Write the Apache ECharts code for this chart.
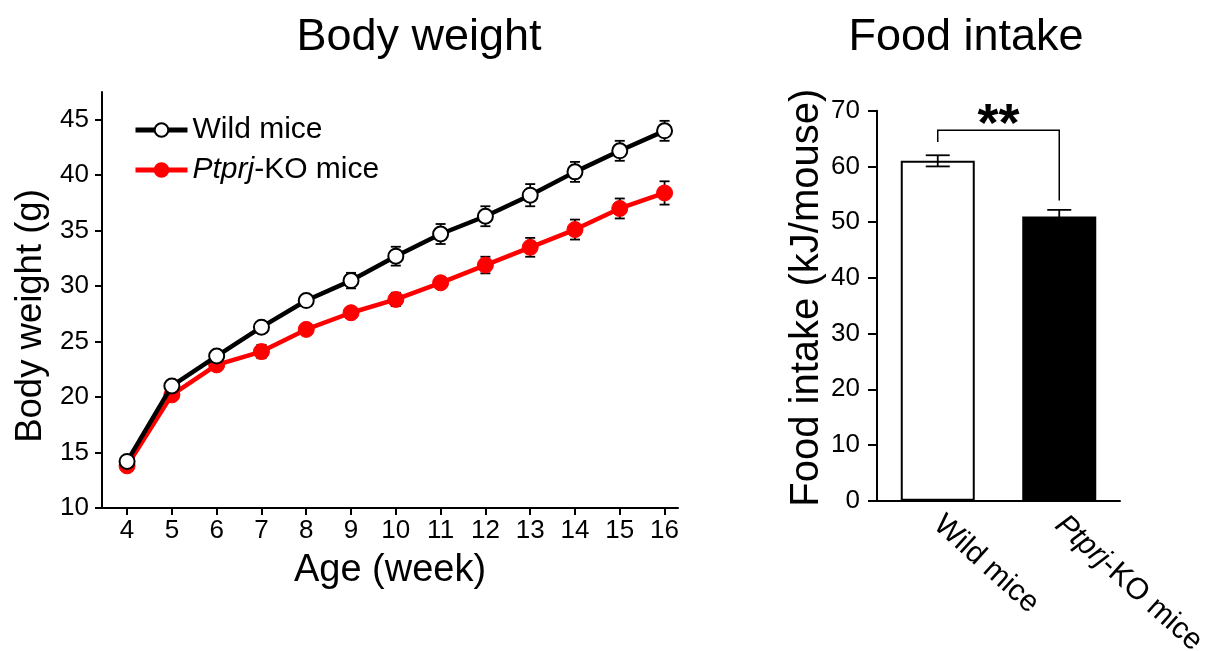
<!DOCTYPE html>
<html>
<head>
<meta charset="utf-8">
<script src="https://cdn.jsdelivr.net/npm/echarts@6/dist/echarts.min.js"></script>
<style>
html,body{margin:0;padding:0;background:#fff;}
#main{width:1207px;height:651px;}
</style>
</head>
<body>
<div id="main"></div>
<script>
// ---- Body weight data ----
const weeks = [4, 5, 6, 7, 8, 9, 10, 11, 12, 13, 14, 15, 16];
const wildWeight = [14.2, 21.0, 23.7, 26.3, 28.7, 30.5, 32.7, 34.7, 36.3, 38.2, 40.3, 42.2, 44.0];
const wildWeightSE = [0.2, 0.3, 0.3, 0.3, 0.5, 0.7, 0.85, 0.9, 0.9, 1.0, 0.9, 0.9, 0.9];
const koWeight = [13.8, 20.2, 22.9, 24.1, 26.1, 27.6, 28.8, 30.3, 31.9, 33.5, 35.1, 37.0, 38.4];
const koWeightSE = [0.2, 0.3, 0.3, 0.6, 0.3, 0.3, 0.6, 0.45, 0.75, 0.85, 0.9, 0.9, 1.05];
const weightTicks = [10, 15, 20, 25, 30, 35, 40, 45];

// ---- Food intake data ----
const groups = ['Wild mice', 'Ptprj-KO mice'];
const foodIntake = [61.0, 51.0];
const foodIntakeSE = [1.0, 1.2];
const sigBracket = [[0, 1, 64.4, 66.5, 53.9]]; // from, to, left end, top, right end
const sigLabel = '**';

const FONT = '"Liberation Sans", Arial, Helvetica, sans-serif';

function errData(xs, means, ses) {
  return xs.map((x, i) => [x, means[i] - ses[i], means[i] + ses[i]]);
}

function errRender(capHalf, lw) {
  return function (params, api) {
    const x = api.value(0);
    const lo = api.coord([x, api.value(1)]);
    const hi = api.coord([x, api.value(2)]);
    const style = { stroke: '#000', lineWidth: lw, fill: null };
    return {
      type: 'group',
      children: [
        { type: 'line', shape: { x1: lo[0], y1: lo[1], x2: hi[0], y2: hi[1] }, style: style },
        { type: 'line', shape: { x1: lo[0] - capHalf, y1: lo[1], x2: lo[0] + capHalf, y2: lo[1] }, style: style },
        { type: 'line', shape: { x1: hi[0] - capHalf, y1: hi[1], x2: hi[0] + capHalf, y2: hi[1] }, style: style }
      ]
    };
  };
}

const chart = echarts.init(document.getElementById('main'));

const axisLineStyle = { color: '#000', width: 2 };

chart.setOption({
  animation: false,
  backgroundColor: '#fff',
  textStyle: { fontFamily: FONT, color: '#000' },
  title: [
    { text: 'Body weight', left: 414, top: 10, textAlign: 'center',
      textStyle: { fontFamily: FONT, fontSize: 45, fontWeight: 'normal', color: '#000' } },
    { text: 'Food intake', left: 961, top: 10, textAlign: 'center',
      textStyle: { fontFamily: FONT, fontSize: 45, fontWeight: 'normal', color: '#000' } }
  ],
  legend: {
    orient: 'vertical',
    left: 128,
    top: 110,
    itemWidth: 52,
    itemHeight: 17,
    itemGap: 10,
    data: ['Wild mice', 'Ptprj-KO mice'],
    lineStyle: { width: 5 },
    textStyle: {
      fontFamily: FONT, fontSize: 30, color: '#000',
      rich: { i: { fontFamily: FONT, fontSize: 30, fontStyle: 'italic', color: '#000' } }
    },
    formatter: function (name) {
      return name === 'Ptprj-KO mice' ? '{i|Ptprj}-KO mice' : name;
    }
  },
  grid: [
    { left: 102, right: 529, top: 92, bottom: 143, outerBoundsMode: 'none', containLabel: false },
    { left: 877, right: 87, top: 110.7, bottom: 150.3, outerBoundsMode: 'none', containLabel: false }
  ],
  xAxis: [
    {
      gridIndex: 0, type: 'value', min: 3.44, max: 16.3,
      splitLine: { show: false },
      axisLine: { lineStyle: axisLineStyle },
      axisTick: { show: true, length: 7, customValues: weeks, lineStyle: { color: '#000', width: 2 } },
      axisLabel: { customValues: weeks, fontSize: 26, fontFamily: FONT, color: '#000', margin: 10 },
      name: 'Age (week)', nameLocation: 'middle', nameGap: 44,
      nameTextStyle: { fontSize: 38, fontFamily: FONT, color: '#000' }
    },
    {
      gridIndex: 1, type: 'category', data: groups,
      axisLine: { lineStyle: axisLineStyle },
      axisTick: { show: false },
      axisLabel: {
        rotate: -42, fontSize: 30, fontFamily: FONT, color: '#000', margin: 20,
        interval: 0,
        formatter: function (v) { return v === 'Ptprj-KO mice' ? '{i|Ptprj}-KO mice' : v; },
        rich: { i: { fontFamily: FONT, fontSize: 30, fontStyle: 'italic', color: '#000' } }
      }
    }
  ],
  yAxis: [
    {
      gridIndex: 0, type: 'value', min: 10, max: 47.5,
      splitLine: { show: false },
      axisLine: { show: true, lineStyle: axisLineStyle },
      axisTick: { show: true, length: 7, customValues: weightTicks, lineStyle: { color: '#000', width: 2 } },
      axisLabel: { customValues: weightTicks, fontSize: 26, fontFamily: FONT, color: '#000', margin: 13 },
      name: 'Body weight (g)', nameLocation: 'middle', nameGap: 53, nameRotate: 90,
      nameTextStyle: { fontSize: 36.5, fontFamily: FONT, color: '#000', padding: [0, 32, 0, 0] }
    },
    {
      gridIndex: 1, type: 'value', min: 0, max: 70, interval: 10,
      splitLine: { show: false },
      axisLine: { show: true, lineStyle: axisLineStyle },
      axisTick: { show: true, length: 9, lineStyle: { color: '#000', width: 2 } },
      axisLabel: { fontSize: 26, fontFamily: FONT, color: '#000', margin: 17 },
      name: 'Food intake (kJ/mouse)', nameLocation: 'middle', nameGap: 50, nameRotate: 90,
      nameTextStyle: { fontSize: 40, fontFamily: FONT, color: '#000', padding: [0, 0, 0, 16] }
    }
  ],
  series: [
    {
      type: 'custom', name: 'wildErr', xAxisIndex: 0, yAxisIndex: 0, z: 1,
      renderItem: errRender(5, 1.8),
      data: errData(weeks, wildWeight, wildWeightSE), silent: true
    },
    {
      type: 'custom', name: 'koErr', xAxisIndex: 0, yAxisIndex: 0, z: 1,
      renderItem: errRender(5, 1.8),
      data: errData(weeks, koWeight, koWeightSE), silent: true
    },
    {
      name: 'Wild mice', type: 'line', xAxisIndex: 0, yAxisIndex: 0, z: 3,
      data: weeks.map((w, i) => [w, wildWeight[i]]),
      symbol: 'circle', symbolSize: 15,
      lineStyle: { color: '#000', width: 4.5 },
      itemStyle: { color: '#fff', borderColor: '#000', borderWidth: 2 }
    },
    {
      name: 'Ptprj-KO mice', type: 'line', xAxisIndex: 0, yAxisIndex: 0, z: 2,
      data: weeks.map((w, i) => [w, koWeight[i]]),
      symbol: 'circle', symbolSize: 16,
      lineStyle: { color: '#ff0000', width: 4.5 },
      itemStyle: { color: '#ff0000', borderColor: '#ff0000', borderWidth: 1 }
    },
    {
      name: 'Food intake', type: 'bar', xAxisIndex: 1, yAxisIndex: 1,
      barWidth: 74,
      data: foodIntake.map((v, i) => ({
        value: v,
        itemStyle: i === 0
          ? { color: '#fff', borderColor: '#000', borderWidth: 2 }
          : { color: '#000', borderColor: '#000', borderWidth: 2 }
      }))
    },
    {
      type: 'custom', name: 'foodErr', xAxisIndex: 1, yAxisIndex: 1, z: 3,
      renderItem: errRender(12, 1.8),
      data: errData([0, 1], foodIntake, foodIntakeSE), silent: true
    },
    {
      type: 'custom', name: 'sig', xAxisIndex: 1, yAxisIndex: 1, z: 4, silent: true,
      renderItem: function (params, api) {
        const a = api.coord([api.value(0), api.value(2)]);
        const t1 = api.coord([api.value(0), api.value(3)]);
        const t2 = api.coord([api.value(1), api.value(3)]);
        const b = api.coord([api.value(1), api.value(4)]);
        return {
          type: 'group',
          children: [
            { type: 'polyline', shape: { points: [a, t1, t2, b] },
              style: { stroke: '#000', lineWidth: 1.5, fill: null } },
            { type: 'text', x: (t1[0] + t2[0]) / 2, y: t1[1] + 23,
              style: { text: sigLabel, fontFamily: FONT, fontSize: 54, fontWeight: 'bold',
                fill: '#000', align: 'center', verticalAlign: 'bottom' } }
          ]
        };
      },
      data: sigBracket
    }
  ]
});
</script>
</body>
</html>
